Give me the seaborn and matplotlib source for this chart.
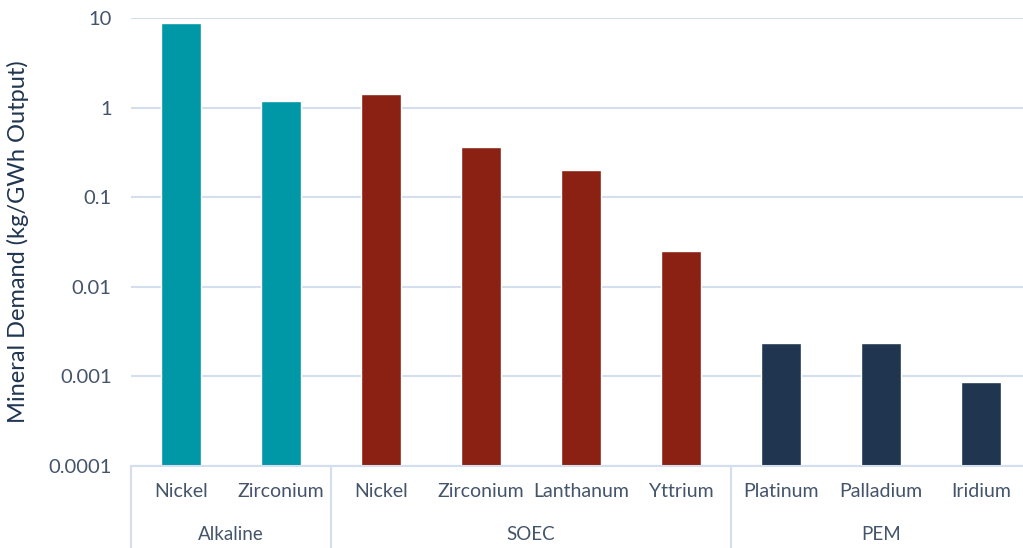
import matplotlib
matplotlib.use("Agg")
import matplotlib.pyplot as plt
import matplotlib.transforms as mtransforms
import seaborn as sns
import pandas as pd

technologies = ["Alkaline", "Alkaline", "SOEC", "SOEC", "SOEC", "SOEC", "PEM", "PEM", "PEM"]
minerals = ["Nickel", "Zirconium", "Nickel", "Zirconium", "Lanthanum", "Yttrium",
            "Platinum", "Palladium", "Iridium"]
demand = [8.9, 1.2, 1.42, 0.36, 0.2, 0.025, 0.00233, 0.00233, 0.00086]
groups = ["Alkaline", "SOEC", "PEM"]
colors = {"Alkaline": "#0097A7", "SOEC": "#8B2112", "PEM": "#1F3550"}
ytick_vals = [0.0001, 0.001, 0.01, 0.1, 1, 10]
ytick_labels = ["0.0001", "0.001", "0.01", "0.1", "1", "10"]

df = pd.DataFrame({
    "key": [f"{t}|{m}" for t, m in zip(technologies, minerals)],
    "tech": technologies,
    "mineral": minerals,
    "demand": demand,
})

sns.set_theme(style="white")
plt.rcParams["font.family"] = ["Lato", "DejaVu Sans"]
text_color = "#44546A"
grid_color = "#D3DEEE"

fig = plt.figure(figsize=(10.23, 5.48), dpi=100)
ax = fig.add_axes([131 / 1023, 82 / 548, 892 / 1023, 448 / 548])

sns.barplot(data=df, x="key", y="demand", hue="tech", palette=colors,
            dodge=False, width=0.4, legend=False, ax=ax, saturation=1)
ax.set_yscale("log")
ax.set_ylim(1e-4, 10)
ax.set_xlim(-0.5, 8.42)

ax.set_yticks(ytick_vals)
ax.set_yticklabels(ytick_labels)
ax.minorticks_off()
ax.yaxis.grid(True, color=grid_color, linewidth=1.5)
ax.set_axisbelow(True)
for s in ax.spines.values():
    s.set_visible(False)

ax.set_xticks(range(len(minerals)))
ax.set_xticklabels(minerals)
ax.tick_params(axis="x", length=0, pad=12, labelsize=14, labelcolor=text_color)
ax.tick_params(axis="y", length=0, pad=14, labelsize=14.5, labelcolor=text_color)
ax.set_xlabel("")
ax.set_ylabel("Mineral Demand (kg/GWh Output)", fontsize=17, color="#1F3550")
ax.yaxis.set_label_coords(-102 / 892, 0.5)

trans = mtransforms.blended_transform_factory(ax.transData, ax.transAxes)
ax.plot([-0.5, 8.42], [0, 0], transform=trans, color=grid_color, lw=1.5, clip_on=False)

# group separators and labels
bounds = []
start = 0
for g in groups:
    n = technologies.count(g)
    bounds.append((start, start + n))
    start += n
for (a, b), g in zip(bounds, groups):
    ax.plot([a - 0.5, a - 0.5], [0, -0.19], transform=trans, color=grid_color,
            lw=1.5, clip_on=False)
    ax.text((a + b - 1) / 2, -0.154, g, transform=trans, ha="center", va="center",
            fontsize=13.5, color=text_color)

fig.savefig("out.png", dpi=100)
